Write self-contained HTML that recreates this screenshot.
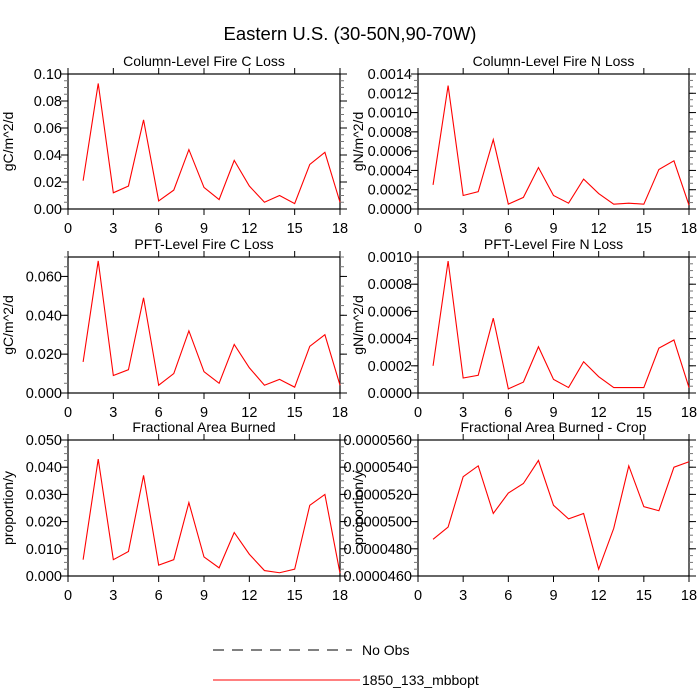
<!DOCTYPE html>
<html><head><meta charset="utf-8"><style>
html,body{margin:0;padding:0;background:#fff;}
svg{display:block;font-family:"Liberation Sans",sans-serif;}
</style></head><body>
<svg id="chart" width="700" height="700" viewBox="0 0 700 700">
<text x="350" y="40" text-anchor="middle" font-size="18.5">Eastern U.S. (30-50N,90-70W)</text>
<g id="panels"></g>
<g>
<line x1="213" y1="650" x2="352" y2="650" stroke="#000" stroke-dasharray="11,8"/>
<text x="362" y="655" font-size="14">No Obs</text>
<line x1="213" y1="680" x2="360" y2="680" stroke="#f00"/>
<text x="362" y="685" font-size="14">1850_133_mbbopt</text>
</g>
</svg>
<script>
const months = [1,2,3,4,5,6,7,8,9,10,11,12,13,14,15,16,17,18];
const xTicks = [0,3,6,9,12,15,18];
const colC = [0.021,0.093,0.012,0.017,0.066,0.006,0.014,0.044,0.016,0.007,0.036,0.017,0.005,0.010,0.004,0.033,0.042,0.005];
const colN = [0.00025,0.00128,0.00014,0.00018,0.00072,0.00005,0.00012,0.00043,0.00014,0.00006,0.00031,0.00016,0.00005,0.00006,0.00005,0.00041,0.00050,0.00004];
const pftC = [0.016,0.068,0.009,0.012,0.049,0.004,0.010,0.032,0.011,0.005,0.025,0.013,0.004,0.007,0.003,0.024,0.030,0.004];
const pftN = [0.00020,0.00097,0.00011,0.00013,0.00055,0.00003,0.00008,0.00034,0.00010,0.00004,0.00023,0.00012,0.00004,0.00004,0.00004,0.00033,0.00039,0.00004];
const fab = [0.006,0.043,0.006,0.009,0.037,0.004,0.006,0.027,0.007,0.003,0.016,0.008,0.002,0.0012,0.0025,0.026,0.030,0.001];
const fabCrop = [0.0000487,0.0000496,0.0000533,0.0000541,0.0000506,0.0000521,0.0000528,0.0000545,0.0000512,0.0000502,0.0000506,0.0000465,0.0000495,0.0000541,0.0000511,0.0000508,0.0000540,0.0000544];
const ticksColC = ["0.00","0.02","0.04","0.06","0.08","0.10"];
const ticksColN = ["0.0000","0.0002","0.0004","0.0006","0.0008","0.0010","0.0012","0.0014"];
const ticksPftC = ["0.000","0.020","0.040","0.060"];
const ticksPftN = ["0.0000","0.0002","0.0004","0.0006","0.0008","0.0010"];
const ticksFab = ["0.000","0.010","0.020","0.030","0.040","0.050"];
const ticksCrop = ["0.0000460","0.0000480","0.0000500","0.0000520","0.0000540","0.0000560"];

const NS="http://www.w3.org/2000/svg";
const root=document.getElementById('panels');
function mk(tag,attrs,parent){const e=document.createElementNS(NS,tag);for(const k in attrs)e.setAttribute(k,attrs[k]);parent.appendChild(e);return e;}

const panels=[
 {name:'column-fire-c',title:'Column-Level Fire C Loss',ylab:'gC/m^2/d',data:colC,ticks:ticksColC,ymin:0,ymax:0.10,x0:68,x1:340,top:74,bot:209,minor:4},
 {name:'column-fire-n',title:'Column-Level Fire N Loss',ylab:'gN/m^2/d',data:colN,ticks:ticksColN,ymin:0,ymax:0.0014,x0:418,x1:689,top:74,bot:209,minor:3},
 {name:'pft-fire-c',title:'PFT-Level Fire C Loss',ylab:'gC/m^2/d',data:pftC,ticks:ticksPftC,ymin:0,ymax:0.07,x0:68,x1:340,top:257,bot:393,minor:4},
 {name:'pft-fire-n',title:'PFT-Level Fire N Loss',ylab:'gN/m^2/d',data:pftN,ticks:ticksPftN,ymin:0,ymax:0.0010,x0:418,x1:689,top:257,bot:393,minor:4},
 {name:'fractional-area-burned',title:'Fractional Area Burned',ylab:'proportion/y',data:fab,ticks:ticksFab,ymin:0,ymax:0.05,x0:68,x1:340,top:440,bot:576,minor:4},
 {name:'fractional-area-burned-crop',title:'Fractional Area Burned - Crop',ylab:'proportion/y',data:fabCrop,ticks:ticksCrop,ymin:0.0000460,ymax:0.0000560,x0:418,x1:689,top:440,bot:576,minor:4}
];

panels.forEach(p=>{
 const g=mk('g',{},root);
 
 
 const xs=v=>p.x0+(v-0)/(18-0)*(p.x1-p.x0);
 const ys=v=>p.bot-(v-p.ymin)/(p.ymax-p.ymin)*(p.bot-p.top);
 const r=mk('rect',{x:p.x0,y:p.top,width:p.x1-p.x0,height:p.bot-p.top,fill:'none',stroke:'#000','stroke-width':1.2},g);
 
 
 xTicks.forEach(t=>{
  const x=xs(t);
  mk('line',{x1:x,y1:p.bot,x2:x,y2:p.bot+6,stroke:'#000'},g);
  mk('line',{x1:x,y1:p.top,x2:x,y2:p.top-6,stroke:'#000'},g);
  const tx=mk('text',{x:x,y:p.bot+24,'text-anchor':'middle','font-size':14.5},g);
  tx.textContent=t;
  
  
 });
 const vals=p.ticks.map(s=>parseFloat(s));
 const dv=vals.length>1?vals[1]-vals[0]:p.ymax;
 for(let v=p.ymin;v<=p.ymax+1e-12;v+=dv/p.minor){
  const y=ys(v);
  mk('line',{x1:p.x0,y1:y,x2:p.x0-4,y2:y,stroke:'#777'},g);
  mk('line',{x1:p.x1,y1:y,x2:p.x1+4,y2:y,stroke:'#777'},g);
 }
 vals.forEach((v,i)=>{
  const y=ys(v);
  mk('line',{x1:p.x0,y1:y,x2:p.x0-7,y2:y,stroke:'#000'},g);
  mk('line',{x1:p.x1,y1:y,x2:p.x1+7,y2:y,stroke:'#000'},g);
  const tx=mk('text',{x:p.x0-6,y:y+5,'text-anchor':'end','font-size':14.5},g);
  tx.textContent=p.ticks[i];
  
  
 });
 const t=mk('text',{x:(p.x0+p.x1)/2,y:p.top-8,'text-anchor':'middle','font-size':14},g);
 t.textContent=p.title;
 
 
 const lx=p.x0-55, ly=(p.top+p.bot)/2;
 const yl=mk('text',{x:lx,y:ly,'text-anchor':'middle','font-size':14,transform:`rotate(-90 ${lx} ${ly})`},g);
 yl.textContent=p.ylab;
 
 
 const pts=p.data.map((v,i)=>xs(months[i])+','+ys(v)).join(' ');
 const pl=mk('polyline',{points:pts,fill:'none',stroke:'#f00','stroke-width':1.1},g);
 
 
});
</script>
</body></html>
